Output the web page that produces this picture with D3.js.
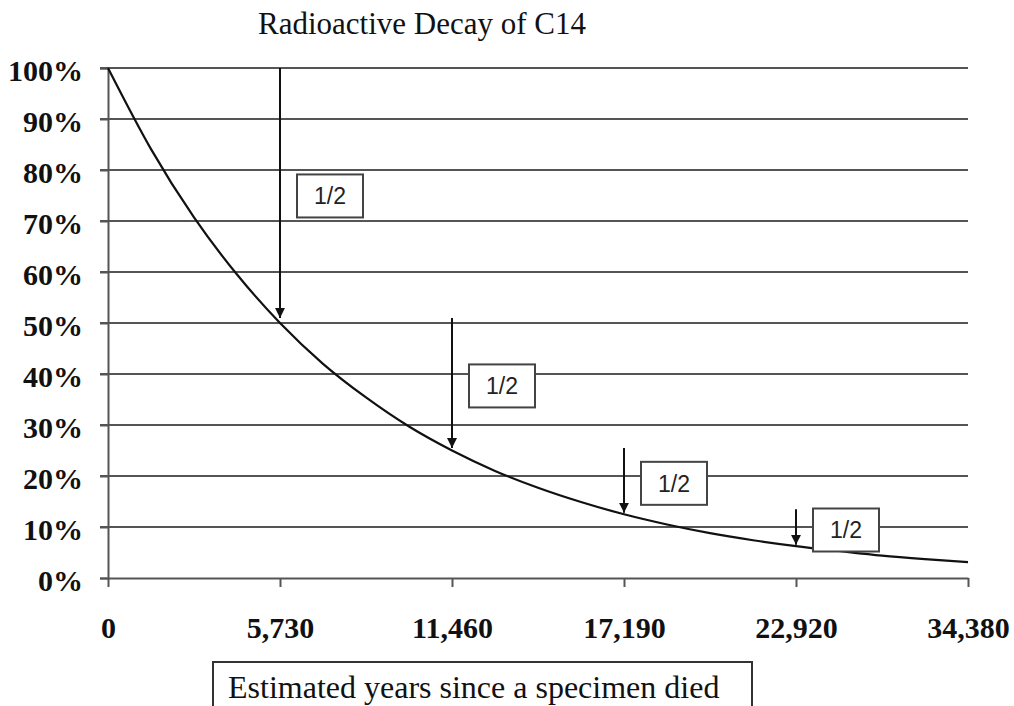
<!DOCTYPE html>
<html>
<head>
<meta charset="utf-8">
<script src="https://cdn.jsdelivr.net/npm/d3@7"></script>
<style>
  body { margin: 0; background: #fff; }
</style>
</head>
<body>
<script>
// values
const years = [0, 1433, 2865, 4298, 5730, 7163, 8595, 10028, 11460, 12893, 14325,
               15758, 17190, 18623, 20055, 21488, 22920, 24353, 25785, 27218, 28650];
const remaining = [100, 84.1, 70.7, 59.5, 50, 42, 35.4, 29.7, 25, 21, 17.7,
                   14.9, 12.5, 10.5, 8.8, 7.4, 6.25, 5.3, 4.4, 3.7, 3.1];
const xTicks = [0, 5730, 11460, 17190, 22920, 28650];
const xTickLabels = ["0", "5,730", "11,460", "17,190", "22,920", "34,380"];
const yTicks = [0, 10, 20, 30, 40, 50, 60, 70, 80, 90, 100];
const arrowYears = [5730, 11460, 17190, 22920];
const arrowFrom = [100, 51, 25.5, 13.5];
const arrowTo = [51, 25.5, 12.8, 6.5];
const arrowLabels = ["1/2", "1/2", "1/2", "1/2"];

window.onload = () => {
    const svg = d3.select('body')
        .append('svg')
        .attr('width', 1014)
        .attr('height', 706);

    const x = d3.scaleLinear().domain([0, 28650]).range([108, 968]);
    const y = d3.scaleLinear().domain([0, 100]).range([578, 68]);

    // horizontal grid
    svg.append('g')
        .selectAll('line')
        .data(yTicks.slice(1))
        .enter()
        .append('line')
        .attr('x1', 100)
        .attr('x2', x(28650))
        .attr('y1', d => y(d))
        .attr('y2', d => y(d))
        .attr('stroke', '#555')
        .attr('stroke-width', 2);

    // y axis
    const yAxis = d3.axisLeft(y)
        .tickValues(yTicks)
        .tickFormat(d => d + '%')
        .tickSize(8)
        .tickPadding(17);
    const gy = svg.append('g')
        .attr('transform', 'translate(108,0)')
        .call(yAxis);
    gy.select('.domain').attr('stroke', '#555').attr('stroke-width', 2);
    gy.selectAll('.tick line').attr('stroke', '#555').attr('stroke-width', 2);
    gy.selectAll('.tick text')
        .attr('dy', '0.4em')
        .style('font-family', '"Liberation Serif", "Times New Roman", serif')
        .style('font-weight', 'bold')
        .style('font-size', '30px')
        .attr('fill', '#111');

    // x axis
    const xAxis = d3.axisBottom(x)
        .tickValues(xTicks)
        .tickFormat((d, i) => xTickLabels[i])
        .tickSize(9)
        .tickSizeOuter(0)
        .tickPadding(30);
    const gx = svg.append('g')
        .attr('transform', 'translate(0,578)')
        .call(xAxis);
    gx.select('.domain').attr('stroke', '#555').attr('stroke-width', 2);
    gx.selectAll('.tick line').attr('stroke', '#555').attr('stroke-width', 2);
    gx.selectAll('.tick text')
        .style('font-family', '"Liberation Serif", "Times New Roman", serif')
        .style('font-weight', 'bold')
        .style('font-size', '30px')
        .attr('fill', '#111');

    // decay curve
    const line = d3.line()
        .x((d, i) => x(years[i]))
        .y(d => y(d))
        .curve(d3.curveMonotoneX);
    svg.append('path')
        .datum(remaining)
        .attr('d', line)
        .attr('fill', 'none')
        .attr('stroke', '#111')
        .attr('stroke-width', 2.2);

    // arrows
    svg.append('defs').append('marker')
        .attr('id', 'head')
        .attr('viewBox', '0 0 10 10')
        .attr('refX', 10)
        .attr('refY', 5)
        .attr('markerWidth', 10)
        .attr('markerHeight', 10)
        .attr('markerUnits', 'userSpaceOnUse')
        .attr('orient', 'auto')
        .append('path')
        .attr('d', 'M0,0 L10,5 L0,10 Z')
        .attr('fill', '#111');

    svg.append('g')
        .selectAll('line')
        .data(arrowYears)
        .enter()
        .append('line')
        .attr('x1', d => x(d))
        .attr('x2', d => x(d))
        .attr('y1', (d, i) => y(arrowFrom[i]))
        .attr('y2', (d, i) => y(arrowTo[i]))
        .attr('stroke', '#111')
        .attr('stroke-width', 2)
        .attr('marker-end', 'url(#head)');

    // "1/2" boxes next to each arrow
    const boxW = 66, boxH = 43;
    const boxes = svg.append('g')
        .selectAll('g')
        .data(arrowYears)
        .enter()
        .append('g')
        .attr('transform', (d, i) => {
            const mid = (arrowFrom[i] + arrowTo[i]) / 2;
            return 'translate(' + (x(d) + 17) + ',' + (y(mid) - boxH / 2 + 3) + ')';
        });
    boxes.append('rect')
        .attr('width', boxW)
        .attr('height', boxH)
        .attr('fill', '#fff')
        .attr('stroke', '#444')
        .attr('stroke-width', 2);
    boxes.append('text')
        .attr('x', boxW / 2)
        .attr('y', boxH / 2)
        .attr('dy', '0.36em')
        .attr('text-anchor', 'middle')
        .style('font-family', '"Liberation Sans", Arial, sans-serif')
        .style('font-size', '23px')
        .attr('fill', '#222')
        .text((d, i) => arrowLabels[i]);

    // title
    svg.append('text')
        .attr('x', 422)
        .attr('y', 34)
        .attr('text-anchor', 'middle')
        .style('font-family', '"Liberation Serif", "Times New Roman", serif')
        .style('font-size', '31px')
        .attr('fill', '#111')
        .text('Radioactive Decay of C14');

    // x axis title in a box
    svg.append('rect')
        .attr('x', 213)
        .attr('y', 662)
        .attr('width', 539)
        .attr('height', 60)
        .attr('fill', '#fff')
        .attr('stroke', '#333')
        .attr('stroke-width', 2);
    svg.append('text')
        .attr('x', 228)
        .attr('y', 698)
        .style('font-family', '"Liberation Serif", "Times New Roman", serif')
        .style('font-size', '32px')
        .attr('fill', '#111')
        .text('Estimated years since a specimen died');
};
</script>
</body>
</html>
